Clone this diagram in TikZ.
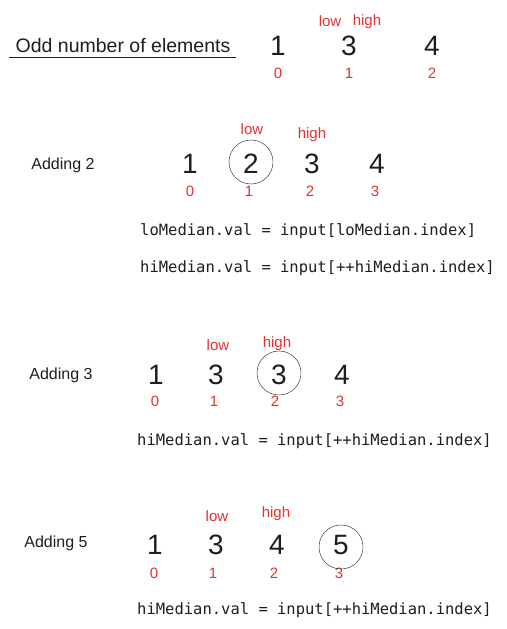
\documentclass[tikz,border=0pt]{standalone}
\usepackage{fontspec}
\setmainfont{Liberation Sans}
\setmonofont{DejaVu Sans Mono}
\usetikzlibrary{positioning}
\definecolor{idxred}{RGB}{228,48,48}
\definecolor{ink}{RGB}{30,30,30}

\begin{document}
\begin{tikzpicture}[
    x=1pt, y=-1pt,
    elem/.style ={
        font=\fontsize{28}{28}\selectfont,
        text=ink,
        inner sep=0pt
    },
    idx/.style ={
        font=\fontsize{15}{15}\selectfont,
        text=idxred,
        inner sep=0pt
    },
    ptr/.style ={
        font=\fontsize{15}{15}\selectfont,
        text=idxred,
        inner sep=0pt
    },
    circled/.style ={
        circle,
        draw=ink,
        minimum size=44pt,
        inner sep=0pt
    },
    caption/.style ={
        font=\fontsize{16}{16}\selectfont,
        text=ink,
        inner sep=0pt
    },
    code/.style ={
        font=\ttfamily\fontsize{15.5}{15.5}\selectfont,
        text=ink,
        anchor=west,
        inner sep=0pt
    }
    ]
    \useasboundingbox (0,0) rectangle (506,629);

    % odd number of elements
    \node[caption, font=\fontsize{19.5}{19.5}\selectfont] (title) at (123,46) {Odd number of elements};
    \coordinate (ulL) at (9,57);
    \coordinate (ulR) at (236,57);
    \draw[ink, line width=0.9pt] (ulL) -- (ulR);
    \foreach \v/\x/\i in {1/278/0,3/349/1,4/432/2}{
        \node[elem] (oddv\i) at (\x,46) {\v};
        \node[idx] (oddi\i) at (\x,73) {\i};
    }
    \node[ptr] (oddlow) at (330,21) {low};
    \node[ptr] (oddhigh) at (367,22) {high};

    % adding 2
    \node[caption] (add2) at (63,165) {Adding 2};
    \foreach \v/\x/\xi/\i in {1/190/190/0,2/251/249/1,3/312/310/2,4/377/375/3}{
        \node[elem] (twov\i) at (\x,164) {\v};
        \node[idx] (twoi\i) at (\xi,191) {\i};
    }
    \node[circled] (twocirc) at (251,162) {};
    \node[ptr] (twolow) at (252,129) {low};
    \node[ptr] (twohigh) at (312,135) {high};
    \node[code] (twocodeA) at (140,231) {loMedian.val = input[loMedian.index]};
    \node[code] (twocodeB) at (140,268) {hiMedian.val = input[++hiMedian.index]};

    % adding 3
    \node[caption] (add3) at (61,375) {Adding 3};
    \foreach \v/\x/\xi/\i in {1/156/155/0,3/216/214/1,3/279/275/2,4/342/340/3}{
        \node[elem] (threev\i) at (\x,375) {\v};
        \node[idx] (threei\i) at (\xi,401) {\i};
    }
    \node[circled] (threecirc) at (279,373) {};
    \node[ptr] (threelow) at (218,345) {low};
    \node[ptr] (threehigh) at (277,344) {high};
    \node[code] (threecode) at (137,441) {hiMedian.val = input[++hiMedian.index]};

    % adding 5
    \node[caption] (add5) at (56,543) {Adding 5};
    \foreach \v/\x/\xi/\i in {1/155/154/0,3/216/213/1,4/277/274/2,5/341/339/3}{
        \node[elem] (fivev\i) at (\x,545) {\v};
        \node[idx] (fivei\i) at (\xi,573) {\i};
    }
    \node[circled] (fivecirc) at (341,547) {};
    \node[ptr] (fivelow) at (217,516) {low};
    \node[ptr] (fivehigh) at (276,514) {high};
    \node[code] (fivecode) at (137,610) {hiMedian.val = input[++hiMedian.index]};
\end{tikzpicture}
\end{document}
